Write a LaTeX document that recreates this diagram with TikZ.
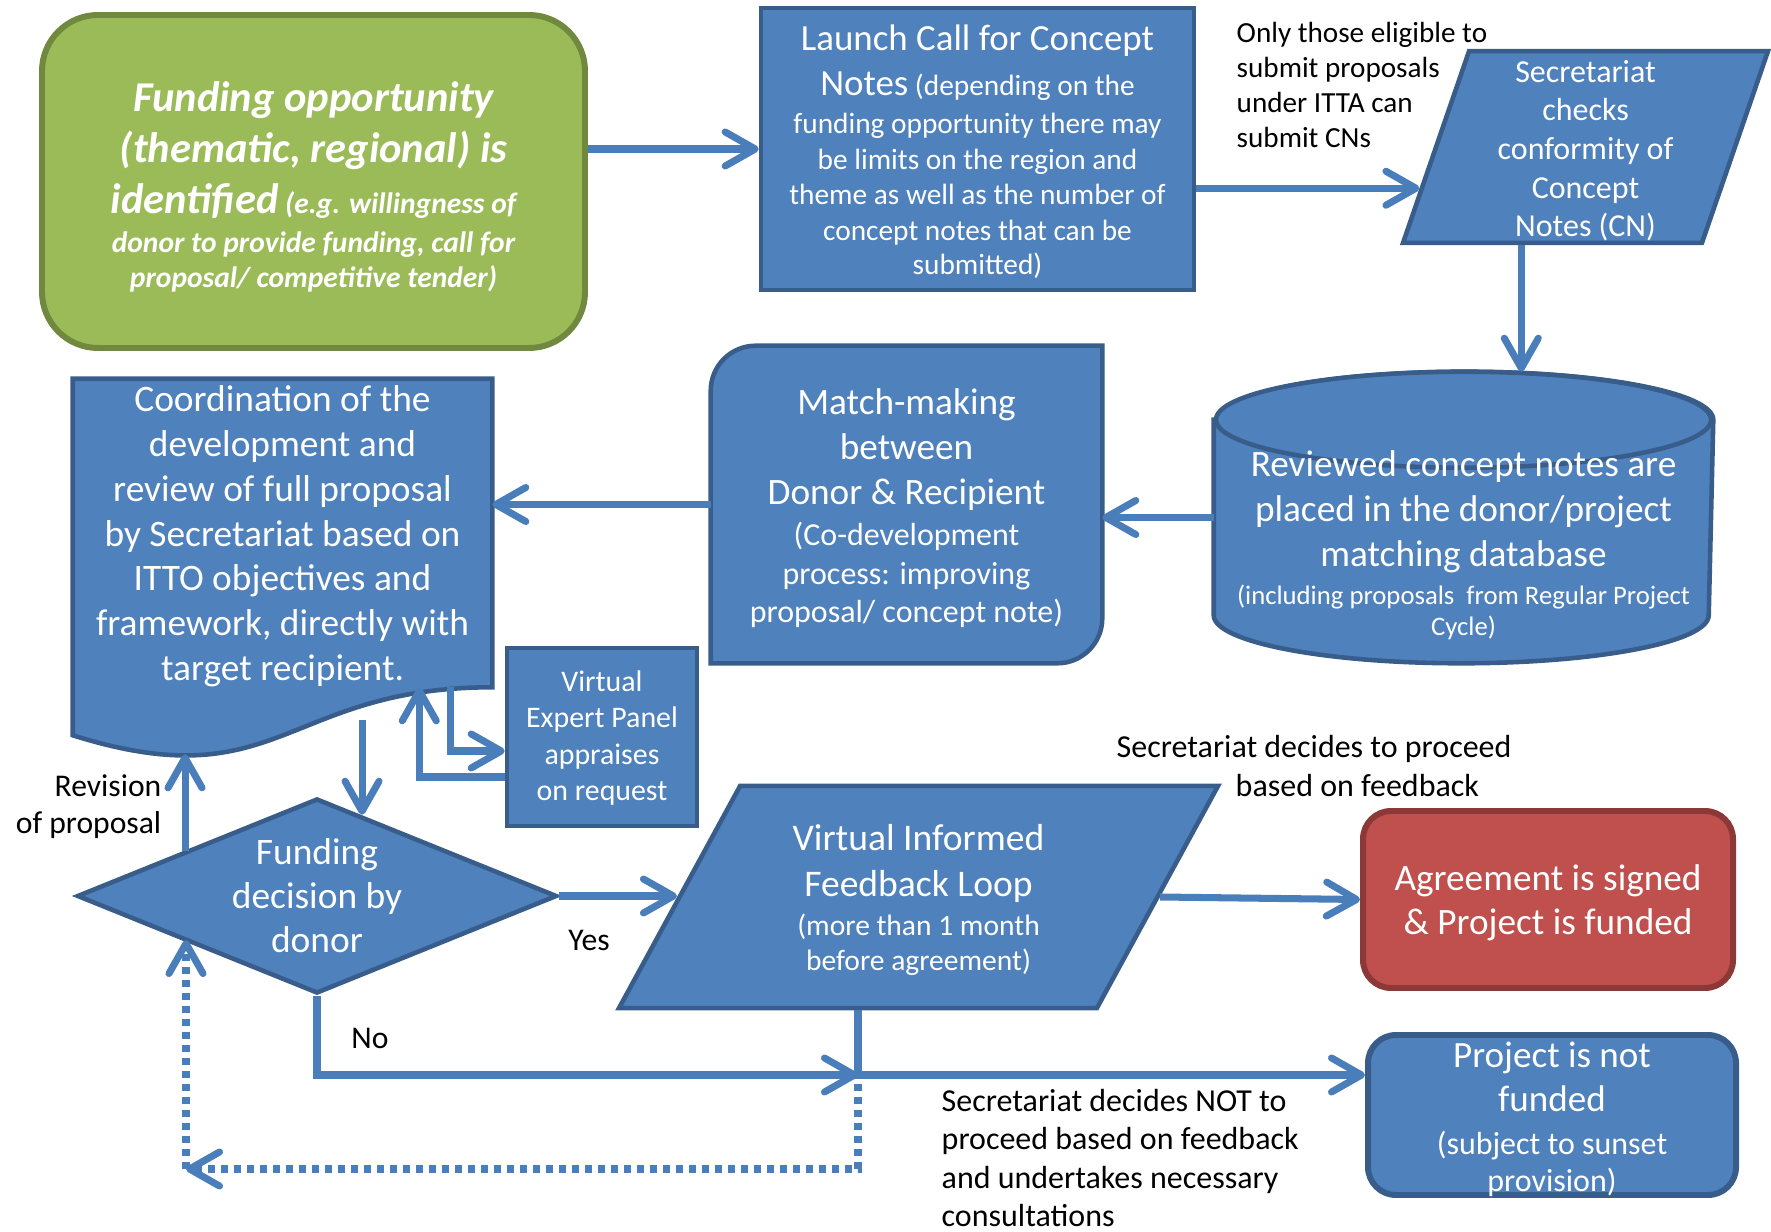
\documentclass[tikz,border=0pt]{standalone}
\usepackage{fontspec}
\setmainfont{Carlito}
\usetikzlibrary{shapes.geometric,arrows.meta,backgrounds,calc}
\definecolor{boxblue}{HTML}{4F81BD}
\definecolor{edgeblue}{HTML}{385D8A}
\definecolor{lineblue}{HTML}{4A7EBB}
\definecolor{boxgreen}{HTML}{9BBB59}
\definecolor{edgegreen}{HTML}{71893F}
\definecolor{boxred}{HTML}{C0504D}
\definecolor{edgered}{HTML}{8C3836}
\newcommand{\fs}[2]{\fontsize{#1}{#2}\selectfont}

\begin{document}
\begin{tikzpicture}[x=0.1mm,y=-0.1mm,>={Straight Barb[length=3mm,width=3.4mm,round]}]
	\tikzstyle{boxes} = [line width=1.3pt, text=white, align=center, inner sep=0pt]
	\tikzstyle{BLUE} = [boxes, draw=edgeblue, fill=boxblue]
	\tikzstyle{GREEN} = [boxes, line width=1.7pt, draw=edgegreen, fill=boxgreen, rounded corners=5.6mm]
	\tikzstyle{RED} = [boxes, line width=1.7pt, draw=edgered, fill=boxred, rounded corners=2.8mm]
	\tikzstyle{ROUND} = [BLUE, line width=1.7pt, rounded corners=2.8mm]
	\tikzstyle{PARA} = [BLUE, trapezium, trapezium stretches body]
	\tikzstyle{DIAM} = [BLUE, diamond, aspect=2.46]
	\tikzstyle{FREE} = [boxes]
	\tikzstyle{OUTLINE} = [line width=1.3pt, draw=edgeblue, fill=boxblue]
	\tikzstyle{note} = [inner sep=0pt, text=black]
	\tikzstyle{flow} = [->, line width=2pt, draw=lineblue]
	\tikzstyle{loop} = [flow, dash pattern=on 2pt off 1.7pt]

	\useasboundingbox (0,0) rectangle (1771,1232);

	\node[GREEN, minimum width=54.3mm, minimum height=33.3mm, text height=69.3pt, text depth=9pt, font=\bfseries\itshape\fs{8.4}{14.5}] (Green) at (313.5,181.5)
		{{\fs{12.1}{13}Funding opportunity}\\{\fs{12.1}{13}(thematic, regional) is}\\{\fs{12.1}{13}identified} (e.g. willingness of\\[-3.4pt]donor to provide funding, call for\\[-4.5pt]proposal/ competitive tender)};
	\node[BLUE, minimum width=43.3mm, minimum height=28.2mm, text height=75.4pt, text depth=4pt, font=\fs{8.35}{12.8}] (Launch) at (977.5,149)
		{{\fs{10.5}{12}Launch Call for Concept}\\{\fs{10.5}{12}Notes} (depending on the\\[-2pt]funding opportunity there may\\[-2.6pt]be limits on the region and\\[-2.8pt]theme as well as the number of\\[-2.6pt]concept notes that can be\\[-3pt]submitted)};
	\node[note, anchor=west, align=left, font=\fs{8.3}{10}] (Eligible) at (1236,85)
		{Only those eligible to\\submit proposals\\under ITTA can\\submit CNs};
	\node[PARA, trapezium left angle=71, trapezium right angle=109, minimum width=36.5mm, text height=52.9pt, text depth=1.7pt, font=\fs{9.1}{11}] (Secr) at (1585.5,147)
		{Secretariat\\checks\\conformity of\\Concept\\Notes (CN)};
	\node[FREE, minimum width=49.5mm, minimum height=28.7mm] (DataBase) at (1463.5,517.5) {};
	\node[FREE, font=\fs{7.6}{12.8}] (DataBaseText) at (1463.5,545)
		{{\fs{10.6}{12}Reviewed concept notes are}\\{\fs{10.6}{12}placed in the donor/project}\\{\fs{10.6}{12}matching database}\\[-2pt](including proposals\ \ from Regular Project\\[-4pt]Cycle)};
	\node[FREE, minimum width=38.7mm, minimum height=31.3mm, text height=74.4pt, text depth=7pt, font=\fs{9.1}{12.9}] (Match) at (906.5,504.5)
		{{\fs{10.6}{12}Match-making}\\{\fs{10.6}{12}between}\\{\fs{10.6}{12}Donor \& Recipient}\\[-1.2pt](Co-development\\[-1.8pt]process: improving\\[-2.1pt]proposal/ concept note)};
	\node[FREE, minimum width=41.5mm, minimum height=30.4mm, text height=84.9pt, text depth=1pt, font=\fs{10.64}{12.75}] (Coord) at (282.5,533)
		{Coordination of the\\development and\\review of full proposal\\by Secretariat based on\\ITTO objectives and\\framework, directly with\\target recipient.};
	\node[BLUE, minimum width=19mm, minimum height=17.8mm, text height=37pt, text depth=1pt, font=\fs{8.5}{10.3}] (Panel) at (602,737)
		{Virtual\\Expert Panel\\appraises\\on request};
	\node[DIAM, minimum width=48mm, minimum height=19.5mm, font=\fs{10.65}{12.5}] (Funding) at (317,896)
		{Funding\\decision by\\donor};
	\node[PARA, trapezium left angle=61.4, trapezium right angle=118.6, minimum width=59.9mm, text height=52.6pt, text depth=10.6pt, font=\fs{8.4}{13}] (VIFL) at (918.5,897)
		{{\fs{10.7}{12}Virtual Informed}\\{\fs{10.7}{12}Feedback Loop}\\[-1.9pt](more than 1 month\\[-3pt]before agreement)};
	\node[RED, minimum width=37mm, minimum height=17.7mm, text height=24.2pt, text depth=4.3pt, font=\fs{10.6}{12.5}] (Agreement) at (1548,899.5)
		{Agreement is signed\\\& Project is funded};
	\node[ROUND, minimum width=36.8mm, minimum height=16mm, text height=44.3pt, text depth=1pt, font=\fs{9.1}{12.5}] (NotFunded) at (1552,1115)
		{{\fs{10.55}{12}Project is not}\\{\fs{10.55}{12}funded}\\[-0.3pt](subject to sunset\\[-2pt]provision)};

	\node[note, anchor=east, align=right, font=\fs{9}{10.6}] (Revision) at (162,807) {Revision\\of proposal};
	\node[note, font=\fs{9}{11}] (Yes) at (589,940) {Yes};
	\node[note, font=\fs{9}{11}] (No) at (370,1038) {No};
	\node[note, anchor=west, align=left, font=\fs{9.1}{10.9}] (Proceed) at (1116,766) {Secretariat decides to proceed\\\hspace*{11.9mm}based on feedback};
	\node[note, anchor=west, align=left, font=\fs{9.1}{10.9}] (NotProceed) at (941,1158)
		{Secretariat decides NOT to\\proceed based on feedback\\and undertakes necessary\\consultations};

	\begin{scope}[on background layer]
		\draw[OUTLINE] (Coord.north west) -- (Coord.north east) -- (Coord.south east) .. controls +(-208,0) and +(207,65) .. ([yshift=-4.8mm]Coord.south west) -- cycle;
		\draw[OUTLINE] (Match.south west) -- ([yshift=-4.5mm]Match.north west) arc[start angle=180, end angle=90, radius=4.5mm] -- (Match.north east) -- ([yshift=4.5mm]Match.south east) arc[start angle=0, end angle=-90, radius=4.5mm] -- cycle;
		\draw[OUTLINE] ([yshift=-4.8mm]DataBase.north west) -- ([yshift=4.8mm]DataBase.south west) arc[start angle=180, end angle=360, x radius=24.75mm, y radius=4.8mm] -- ([yshift=-4.8mm]DataBase.north east) arc[start angle=0, end angle=180, x radius=24.75mm, y radius=4.8mm] -- cycle;
		\draw[OUTLINE] ([yshift=-4.8mm]DataBase.north) ellipse [x radius=24.75mm, y radius=4.8mm];
	\end{scope}

	\coordinate (SecrIn) at ($(Secr.bottom left corner)!0.29!(Secr.top left corner)$);
	\coordinate (SecrOut) at ($(Secr.bottom left corner)!0.4!(Secr.bottom right corner)$);
	\coordinate (CutA) at ([yshift=-3.3mm]Coord.south);
	\coordinate (WaveLow) at ([yshift=-6.7mm]Coord.south);
	\coordinate (Split) at (858,1075);
	\coordinate (LoopCorner) at (186,1169);

	\draw[flow] (Green.east |- Launch.west) -- (Launch.west);
	\draw[flow] (Launch.east |- SecrIn) -- (SecrIn);
	\draw[flow] (SecrOut) -- (SecrOut |- DataBase.north);
	\draw[flow] (DataBase.west) -- (DataBase.west -| Match.east);
	\draw[flow] (Match.west) -- (Match.west -| Coord.east);
	\draw[flow] ([xshift=-4.2mm]Coord.south east) |- ([yshift=-1.4mm]Panel.west);
	\draw[flow] ([yshift=-4mm]Panel.west) -| ([xshift=-7.3mm]Coord.south east);
	\draw[flow] (Funding.61 |- CutA) -- (Funding.61);
	\draw[flow] (Funding.161) -- (Funding.161 |- WaveLow);
	\draw[flow] (Funding.east) -- (Funding.east -| VIFL.west);
	\draw[flow] (VIFL.east) -- (Agreement.west);
	\draw[flow] (Funding.south) |- (Split);
	\draw[flow] (VIFL.south -| Split) -- (Split) -- (Split -| NotFunded.west);
	\draw[loop] ([yshift=-0.9mm]Split) |- (LoopCorner);
	\draw[loop] (LoopCorner) -- (LoopCorner |- Funding.198);

\end{tikzpicture}
\end{document}
